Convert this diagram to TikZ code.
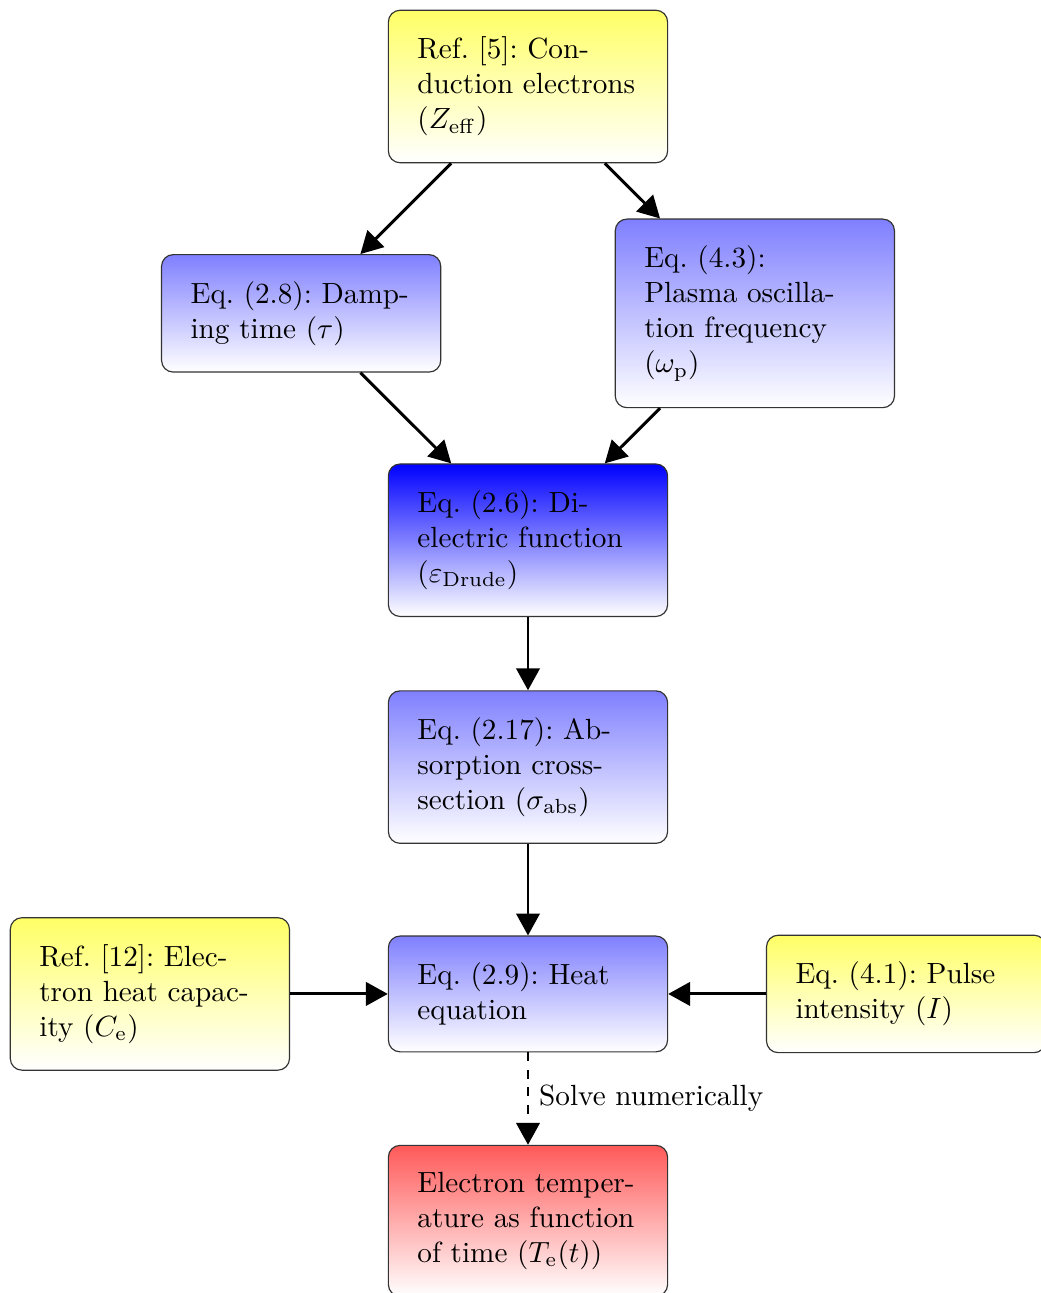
\documentclass[tikz,border=0pt]{standalone}
\usetikzlibrary{positioning,arrows.meta}
\hyphenation{con-duction}

\begin{document}
\begin{tikzpicture}[
    node distance=2.73cm and 2.73cm, on grid,
    box/.style={draw=black!80, rounded corners=4pt, text width=2.66cm,
      align=left, font=\frenchspacing, inner xsep=0.35cm, inner ysep=0.32cm,
      bottom color=white},
    refbox/.style={box, top color=yellow!60},
    eqbox/.style={box, top color=blue!50},
    mainbox/.style={box, top color=blue},
    resultbox/.style={box, top color=red!65},
    flow/.style={-{Triangle[length=7.5pt,width=8pt]}, line width=1pt}
  ]

  % fixed frame (right box and last box are cut off)
  \useasboundingbox (-6.354,1.041) rectangle (6.173,-14.519);

  % ========== Inputs ==========
  \node[refbox] (conduction) at (0,0)
    {Ref. [5]: Conduction electrons ($Z_{\mathrm{eff}}$)};
  \node[eqbox, below left=of conduction] (damping)
    {Eq. (2.8): Damping time ($\tau$)};
  \node[eqbox, below right=of conduction] (plasma)
    {Eq. (4.3): Plasma oscillation frequency ($\omega_{\mathrm{p}}$)};

  % ========== Model ==========
  \node[mainbox, below=5.46cm of conduction] (dielectric)
    {Eq. (2.6): Dielectric function ($\varepsilon_{\mathrm{Drude}}$)};
  \node[eqbox, below=of dielectric] (absorption)
    {Eq. (2.17): Absorption cross-section ($\sigma_{\mathrm{abs}}$)};
  \node[eqbox, below=of absorption] (heat)
    {Eq. (2.9): Heat equation};
  \node[refbox, left=4.55cm of heat] (capacity)
    {Ref. [12]: Electron heat capacity ($C_{\mathrm{e}}$)};
  \node[refbox, right=4.55cm of heat] (intensity)
    {Eq. (4.1): Pulse intensity ($I$)};

  % ========== Result ==========
  \node[resultbox, below=of heat] (temperature)
    {Electron temperature as function of time ($T_{\mathrm{e}}(t)$)};

  \draw[flow] (conduction) -- (damping);
  \draw[flow] (conduction) -- (plasma);
  \draw[flow] (damping) -- (dielectric);
  \draw[flow] (plasma) -- (dielectric);
  \draw[flow] (dielectric) -- (absorption);
  \draw[flow] (absorption) -- (heat);
  \draw[flow] (capacity) -- (heat);
  \draw[flow] (intensity) -- (heat);
  \draw[flow, dashed] (heat) -- node[right]{Solve numerically} (temperature);

\end{tikzpicture}
\end{document}
